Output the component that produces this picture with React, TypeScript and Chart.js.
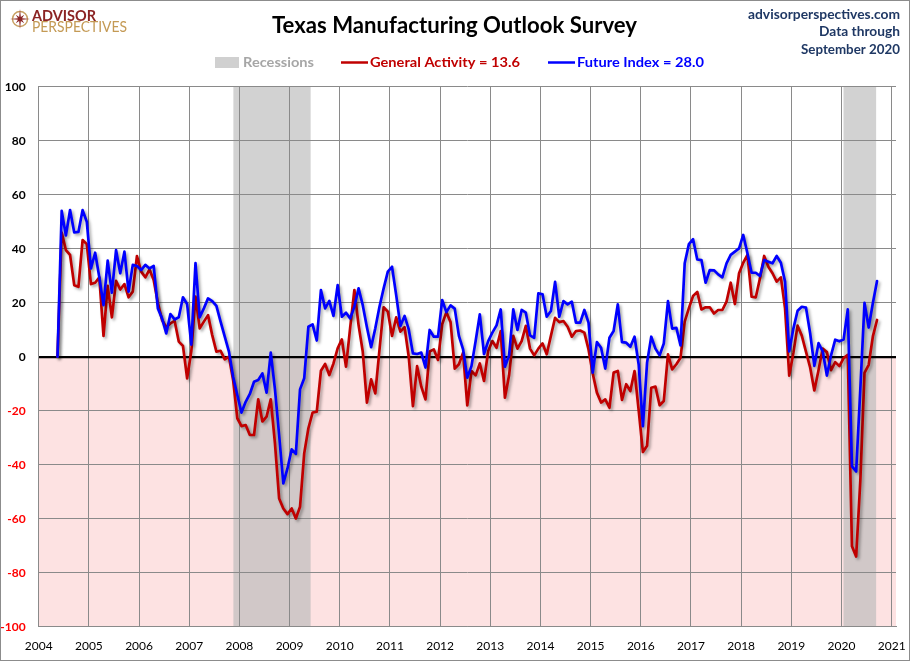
import React, { useEffect, useRef } from "react";
import { Chart, registerables } from "chart.js";

Chart.register(...registerables);

// ---------- data ----------
const START_YEAR = 2004;
const START_MONTH = 5; // first observation: May 2004 (monthly through Sep 2020)

const yearTicks = [2004, 2005, 2006, 2007, 2008, 2009, 2010, 2011, 2012, 2013, 2014, 2015, 2016, 2017, 2018, 2019, 2020, 2021];
const valueTicks = [-100, -80, -60, -40, -20, 0, 20, 40, 60, 80, 100];

// recession periods as [start, end] in fractional years
const recessionStarts = [2007.88, 2020.04];
const recessionEnds = [2009.42, 2020.69];

const generalActivity = [
  0, 46, 39.5, 37.7, 26.5, 25.9, 43.2, 41.7, 26.9, 27.4,
  29.4, 7.7, 26.2, 14.6, 28.1, 24.9, 26.9, 22, 24.1, 37.3,
  31.5, 29.4, 32.3, 28.4, 20, 13.6, 10.9, 12.3, 13.3, 5.6,
  4, -8, 2, 22.3, 10.5, 13, 15.4, 8, 1.9, 2.2,
  -1, 0, -8.6, -22.8, -25.7, -25.3, -29, -29, -15.8, -24,
  -22.2, -15.8, -32, -52.5, -56.2, -58.3, -56.2, -59.9, -55.6, -35.8,
  -26.5, -20.7, -20.4, -5.2, -2.7, -6.8, -2.5, 3.1, 6.4, -3.7,
  10.9, 24.7, 11.7, 1.9, -17, -8.4, -13.6, 2.5, 18.3, 16.7,
  7.7, 14.6, 9.3, 10.9, 0, -18.3, -3.5, -11.1, -15.8, 1.9,
  2.7, -1.2, 12, 16.5, 12.8, -4.4, -2.8, 1.5, -18, -5.3,
  -6.9, -2.5, -9, 2.1, 5.8, 3.3, 9.5, -15.2, -6.9, 7.7,
  3, 5.8, 11.4, 3, 0.5, 3, 4.9, 0.9, 7.7, 14.4,
  12.8, 13.2, 11.1, 7.4, 9.5, 9.7, 8.9, 2.7, -6.2, -13.3,
  -17, -15.8, -18.9, -5.9, -5.3, -16, -10.2, -12.7, -5.3, -20,
  -35.3, -33, -11.5, -11.1, -18, -16.4, 0.9, -4.7, -2.8, -0.4,
  13, 18, 22.5, 24, 17.5, 18.3, 18.3, 16, 17.3, 17.3,
  20.4, 27.4, 19.5, 30.9, 34.8, 37.7, 22.2, 22, 29, 37.3,
  33.3, 30.9, 27.8, 29.4, 17.9, -7, 1.5, 11.5, 7.8, 1.9,
  -4, -12.5, -5, 3, 1.7, -5, -2, -3.5, -0.5, 0.7,
  -70.2, -74, -46, -6, -3, 7.5, 13.6,
];

const futureIndex = [
  0, 54, 44.9, 54.3, 46, 46.2, 54.3, 50, 32.7, 38.5,
  29.4, 19.1, 35.6, 23.7, 39.5, 30.9, 38.9, 24.1, 34, 33.6,
  32.1, 34, 32.7, 33.6, 17.9, 14.2, 8.6, 15.8, 13.8, 14.6,
  22, 19.5, 4.5, 34.7, 14.6, 17.9, 21.6, 20.6, 18.8, 13,
  7.4, 1.9, -7.4, -14.2, -20.7, -16.7, -13.8, -9.3, -8.6, -6.2,
  -13.3, 1.5, -12, -29, -46.9, -41.4, -34.3, -36, -12.1, -8,
  11.1, 12, 6, 24.7, 17.9, 20.7, 15.1, 26.5, 14.8, 16.3,
  14.2, 18.5, 25.3, 19.1, 10.9, 3.5, 10.5, 18.5, 25.3, 31.5,
  33.3, 22.8, 11.4, 15.1, 10.1, 1.2, 1, 1.5, -4, 9.9,
  7.4, 7.4, 21, 16.5, 19, 17.8, 7.7, 2.7, -7.8, -3.5,
  5.8, 15.7, 1, 5.8, 8.9, 11.6, 17.5, -3.7, 0.5, 17.5,
  9.9, 17.3, 16.3, 7.9, 7, 23.5, 23.1, 14.8, 16.9, 27.7,
  14.8, 20.6, 19.4, 20.4, 12.6, 12.6, 17.3, 12.6, -5.9, 5.4,
  3.3, -4.4, 7, 9.5, 19.4, 5.4, 5.2, 3.7, 7.4, -3,
  -25.7, -2.2, 7.4, 3, 0.5, 4.9, 20.6, 10.4, 10.7, 4.2,
  34.6, 41.7, 43.5, 36, 35.8, 27.4, 32.1, 32, 30.5, 29.4,
  34.6, 37.7, 38.9, 40.1, 45.1, 38.3, 31.1, 31.1, 29.9, 35.8,
  35.2, 34.6, 37.3, 34.8, 27.8, 2, 10.5, 17, 18.5, 18.2,
  8.7, -3.4, 5, 2, -7, 0.5, 6.3, 5.7, 6.4, 17.5,
  -40.6, -42.5, -12, 19.9, 10.8, 19.9, 28,
];

// ---------- styling ----------
const RED = "#C00000";
const BLUE = "#0000FF";
const GRID = "#8a8a8a";
const FONT = "Lato, 'Open Sans', 'DejaVu Sans', sans-serif";

const monthX = (i: number) => START_YEAR + (START_MONTH - 1 + i + 0.5) / 12;

function drawFit(ctx: CanvasRenderingContext2D, text: string, left: number, baseline: number, width: number) {
  const w = ctx.measureText(text).width;
  const s = width / w;
  ctx.save();
  ctx.translate(left, baseline);
  ctx.scale(s, 1);
  ctx.textAlign = "left";
  ctx.textBaseline = "alphabetic";
  ctx.fillText(text, 0, 0);
  ctx.restore();
}

const backgroundPlugin = {
  id: "bgBands",
  beforeDraw(chart: any) {
    const { ctx, chartArea, scales } = chart;
    ctx.save();
    ctx.fillStyle = "#ffffff";
    ctx.fillRect(0, 0, chart.width, chart.height);
    // pink negative zone
    const y0 = scales.y.getPixelForValue(0);
    const yMin = scales.y.getPixelForValue(-100);
    ctx.fillStyle = "#FDE2E2";
    ctx.fillRect(chartArea.left, y0, chartArea.right - chartArea.left, yMin - y0);
    // recession bands
    ctx.fillStyle = "rgba(186,186,186,0.65)";
    recessionStarts.forEach((s, k) => {
      const x1 = scales.x.getPixelForValue(s);
      const x2 = scales.x.getPixelForValue(recessionEnds[k]);
      ctx.fillRect(x1, chartArea.top, x2 - x1, chartArea.bottom - chartArea.top);
    });
    ctx.restore();
  },
};

const shadowPlugin = {
  id: "lineShadow",
  beforeDatasetDraw(chart: any) {
    const ctx = chart.ctx;
    ctx.save();
    ctx.shadowColor = "rgba(0,0,0,0.35)";
    ctx.shadowBlur = 3;
    ctx.shadowOffsetX = 2;
    ctx.shadowOffsetY = 2;
  },
  afterDatasetDraw(chart: any) {
    chart.ctx.restore();
  },
};

const headerPlugin = {
  id: "header",
  afterDraw(chart: any) {
    const ctx: CanvasRenderingContext2D = chart.ctx;
    ctx.save();

    // outer frame
    ctx.strokeStyle = "#8c8c8c";
    ctx.lineWidth = 1;
    ctx.strokeRect(0.5, 0.5, chart.width - 1, chart.height - 1);

    // logo compass
    const cx = 20, cy = 19;
    ctx.strokeStyle = "#C8A063";
    ctx.lineWidth = 1.5;
    ctx.beginPath();
    ctx.arc(cx, cy, 7.5, 0, Math.PI * 2);
    ctx.stroke();
    ctx.fillStyle = "#8B2323";
    ctx.beginPath();
    for (let k = 0; k < 16; k++) {
      const ang = (k * Math.PI) / 8 - Math.PI / 2;
      const r = k % 4 === 0 ? 10 : k % 2 === 0 ? 6 : 2.2;
      const px = cx + r * Math.cos(ang);
      const py = cy + r * Math.sin(ang);
      if (k === 0) ctx.moveTo(px, py);
      else ctx.lineTo(px, py);
    }
    ctx.closePath();
    ctx.fill();

    // logo text
    ctx.fillStyle = "#8B2323";
    ctx.font = `bold 15px ${FONT}`;
    drawFit(ctx, "ADVISOR", 32, 21, 64);
    ctx.fillStyle = "#C49A55";
    ctx.font = `15px ${FONT}`;
    drawFit(ctx, "PERSPECTIVES", 32, 32, 95);

    // title
    ctx.fillStyle = "#000000";
    ctx.font = `bold 23px ${FONT}`;
    drawFit(ctx, "Texas Manufacturing Outlook Survey", 272, 33, 365);

    // right-hand source text
    ctx.fillStyle = "#1F3864";
    ctx.font = `bold 13px ${FONT}`;
    drawFit(ctx, "advisorperspectives.com", 748, 19, 152);
    drawFit(ctx, "Data through", 819, 36, 81);
    drawFit(ctx, "September 2020", 801, 54, 99);

    // legend
    const ly = 62.5;
    ctx.fillStyle = "#D0D0D0";
    ctx.fillRect(215, 57, 24, 11);
    ctx.font = `bold 13.5px ${FONT}`;
    ctx.fillStyle = "#A6A6A6";
    drawFit(ctx, "Recessions", 243, 67, 71);

    ctx.strokeStyle = RED;
    ctx.lineWidth = 2.5;
    ctx.beginPath();
    ctx.moveTo(341, ly);
    ctx.lineTo(368, ly);
    ctx.stroke();
    ctx.fillStyle = RED;
    const ga = generalActivity[generalActivity.length - 1].toFixed(1);
    drawFit(ctx, `General Activity = ${ga}`, 370, 67, 150);

    ctx.strokeStyle = BLUE;
    ctx.beginPath();
    ctx.moveTo(548, ly);
    ctx.lineTo(575, ly);
    ctx.stroke();
    ctx.fillStyle = BLUE;
    const fi = futureIndex[futureIndex.length - 1].toFixed(1);
    drawFit(ctx, `Future Index = ${fi}`, 577, 67, 127);

    ctx.restore();
  },
};

export default function App() {
  const canvasRef = useRef<HTMLCanvasElement>(null);

  useEffect(() => {
    document.body.style.margin = "0";
    const canvas = canvasRef.current;
    if (!canvas) return;

    const redPoints = generalActivity.map((v, i) => ({ x: monthX(i), y: v }));
    const bluePoints = futureIndex.map((v, i) => ({ x: monthX(i), y: v }));

    const chart = new Chart(canvas, {
      type: "line",
      data: {
        datasets: [
          {
            label: "Future Index",
            data: bluePoints,
            borderColor: BLUE,
            borderWidth: 2.7,
            pointRadius: 0,
            tension: 0,
            borderJoinStyle: "round",
            borderCapStyle: "round",
            order: 0,
          },
          {
            label: "General Activity",
            data: redPoints,
            borderColor: RED,
            borderWidth: 2.7,
            pointRadius: 0,
            tension: 0,
            borderJoinStyle: "round",
            borderCapStyle: "round",
            order: 1,
          },
        ],
      },
      options: {
        animation: false,
        responsive: false,
        maintainAspectRatio: false,
        events: [],
        layout: { padding: { top: 86.7, right: 14, bottom: 0, left: 0 } },
        plugins: {
          legend: { display: false },
          title: { display: false },
          tooltip: { enabled: false },
        },
        scales: {
          x: {
            type: "linear",
            min: 2004,
            max: 2021.086,
            afterBuildTicks: (scale: any) => {
              scale.ticks = yearTicks.map((v) => ({ value: v }));
            },
            afterFit: (scale: any) => {
              scale.height = 34.3;
              scale.paddingLeft = 0;
              scale.paddingRight = 0;
            },
            grid: { color: GRID, lineWidth: 1, drawTicks: false },
            border: { display: true, color: GRID, width: 1 },
            ticks: {
              padding: 12,
              maxRotation: 0,
              autoSkip: false,
              color: "#000000",
              font: { family: FONT, size: 12 },
              callback: (v: any) => String(v),
            },
          },
          y: {
            type: "linear",
            min: -100,
            max: 100,
            afterBuildTicks: (scale: any) => {
              scale.ticks = valueTicks.map((v) => ({ value: v }));
            },
            afterFit: (scale: any) => {
              scale.width = 38.7;
              scale.paddingTop = 0;
              scale.paddingBottom = 0;
            },
            grid: {
              drawTicks: false,
              color: (c: any) => (c.tick && c.tick.value === 0 ? "#000000" : GRID),
              lineWidth: (c: any) => (c.tick && c.tick.value === 0 ? 2.2 : 1),
            },
            border: { display: true, color: GRID, width: 1 },
            ticks: {
              padding: 13,
              autoSkip: false,
              color: (c: any) => (c.tick && c.tick.value < 0 ? "#FF0000" : "#000000"),
              font: { family: FONT, size: 12, weight: "bold" },
              callback: (v: any) => String(v),
            },
          },
        },
      },
      plugins: [backgroundPlugin, shadowPlugin, headerPlugin],
    } as any);

    return () => chart.destroy();
  }, []);

  return (
    <div style={{ position: "absolute", left: 0, top: 0, width: 910, height: 661 }}>
      <canvas ref={canvasRef} width={910} height={661} style={{ display: "block", width: 910, height: 661 }} />
    </div>
  );
}
